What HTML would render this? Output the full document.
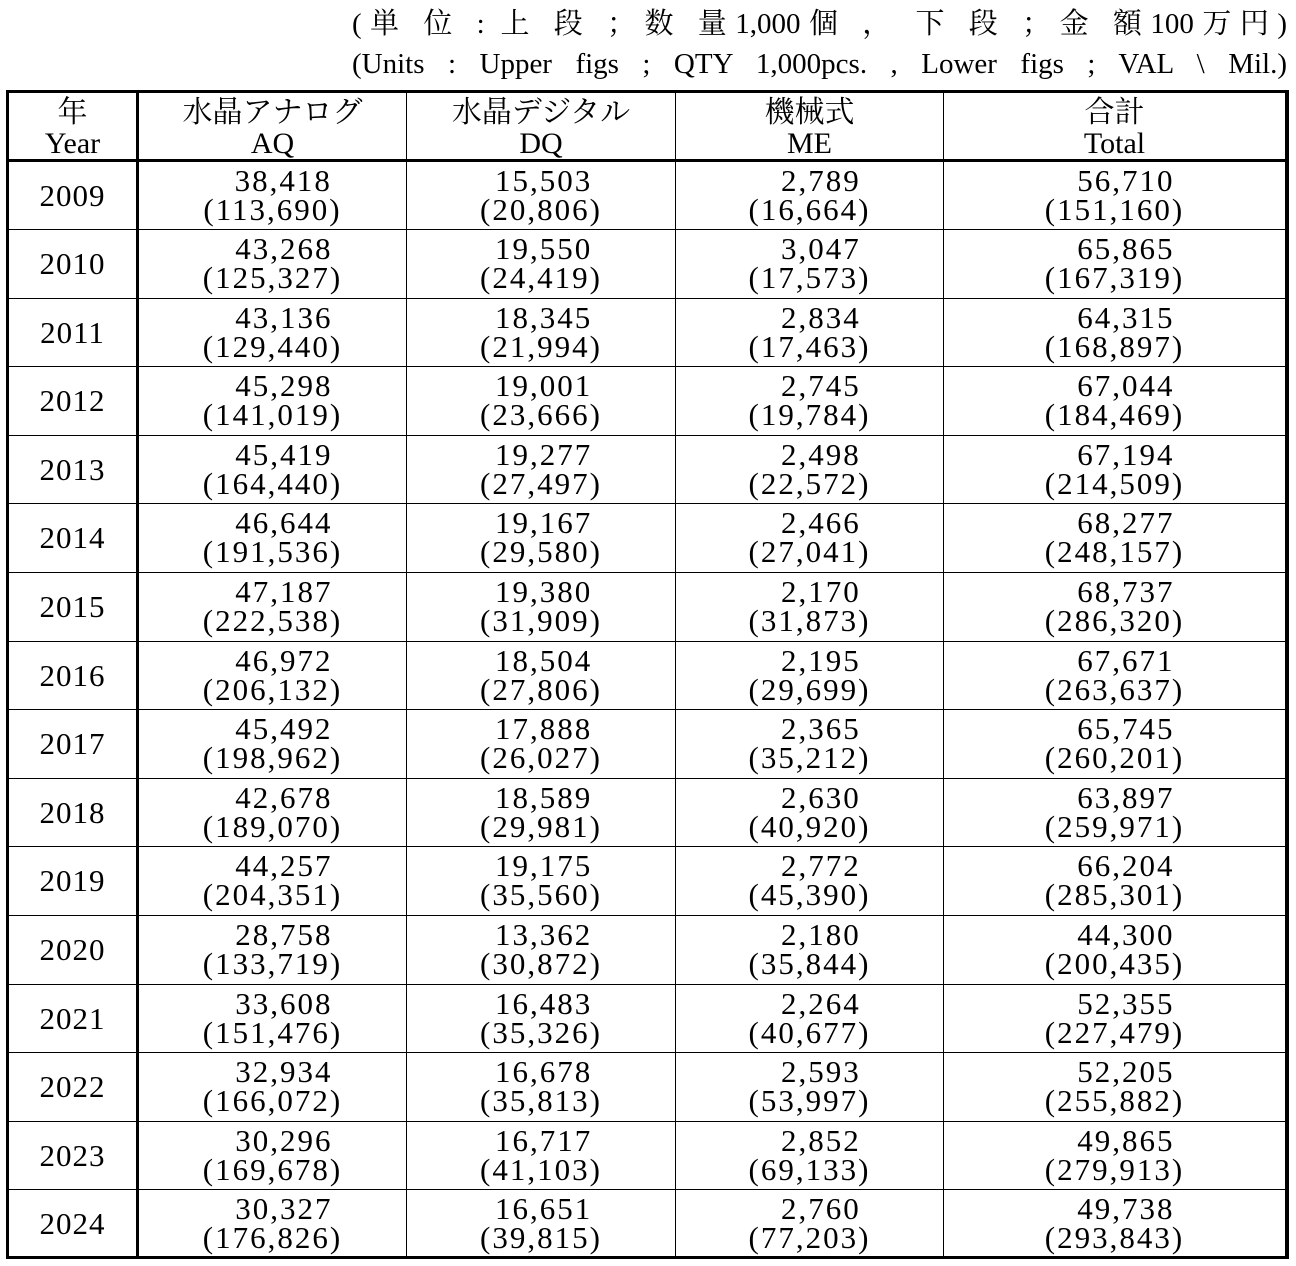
<!DOCTYPE html>
<html><head><meta charset="utf-8"><style>
body{margin:0;width:1296px;height:1266px;background:#fff;position:relative;overflow:hidden;font-family:"Liberation Serif","Noto Serif CJK SC",serif;color:#000}
.t{position:absolute;left:352px;width:935px;font-size:29px;text-align:justify;text-align-last:justify;text-justify:inter-word;white-space:nowrap;line-height:32px}
.v{position:absolute;background:#000}
.r{position:absolute;left:0;width:1296px;height:68px;font-size:31px;line-height:29px;letter-spacing:2px}
.c{position:absolute;top:4px;text-align:center}
.c span{display:inline-block;text-align:right}
.y{position:absolute;left:8px;width:129px;text-align:center;top:19px;letter-spacing:1px}
.h{position:absolute;top:97px;font-size:30px;line-height:31px;text-align:center}
</style></head><body>
<div class="t" style="top:8px">(単 位 : 上 段 ；数 量1,000個 ， 下 段 ；金 額100万円)</div>
<div class="t" style="top:48px">(Units : Upper figs ; QTY 1,000pcs. , Lower figs ; VAL \ Mil.)</div>

<div class="v" style="left:6px;top:90px;width:1283px;height:3px"></div>
<div class="v" style="left:6px;top:1256px;width:1283px;height:3px"></div>
<div class="v" style="left:6px;top:159px;width:1283px;height:3px"></div>
<div class="v" style="left:6px;top:90px;width:3px;height:1169px"></div>
<div class="v" style="left:1285px;top:90px;width:4px;height:1169px"></div>
<div class="v" style="left:136px;top:90px;width:3px;height:1169px"></div>
<div class="v" style="left:406px;top:90px;width:1px;height:1169px"></div>
<div class="v" style="left:675px;top:90px;width:1px;height:1169px"></div>
<div class="v" style="left:943px;top:90px;width:1px;height:1169px"></div>

<div class="v" style="left:6px;top:229px;width:1283px;height:1px"></div>
<div class="v" style="left:6px;top:298px;width:1283px;height:1px"></div>
<div class="v" style="left:6px;top:366px;width:1283px;height:1px"></div>
<div class="v" style="left:6px;top:435px;width:1283px;height:1px"></div>
<div class="v" style="left:6px;top:503px;width:1283px;height:1px"></div>
<div class="v" style="left:6px;top:572px;width:1283px;height:1px"></div>
<div class="v" style="left:6px;top:641px;width:1283px;height:1px"></div>
<div class="v" style="left:6px;top:709px;width:1283px;height:1px"></div>
<div class="v" style="left:6px;top:778px;width:1283px;height:1px"></div>
<div class="v" style="left:6px;top:846px;width:1283px;height:1px"></div>
<div class="v" style="left:6px;top:915px;width:1283px;height:1px"></div>
<div class="v" style="left:6px;top:984px;width:1283px;height:1px"></div>
<div class="v" style="left:6px;top:1052px;width:1283px;height:1px"></div>
<div class="v" style="left:6px;top:1121px;width:1283px;height:1px"></div>
<div class="v" style="left:6px;top:1189px;width:1283px;height:1px"></div>

<div class="h" style="left:8px;width:129px">年<br>Year</div>
<div class="h" style="left:139px;width:267px">水晶アナログ<br>AQ</div>
<div class="h" style="left:407px;width:268px">水晶デジタル<br>DQ</div>
<div class="h" style="left:676px;width:267px">機械式<br>ME</div>
<div class="h" style="left:944px;width:341px">合計<br>Total</div>

<div class="r" style="top:162px"><div class="y">2009</div><div class="c" style="left:139px;width:267px"><span>38,418&nbsp;<br>(113,690)</span></div><div class="c" style="left:407px;width:268px"><span>15,503&nbsp;<br>(20,806)</span></div><div class="c" style="left:676px;width:267px"><span>2,789&nbsp;<br>(16,664)</span></div><div class="c" style="left:944px;width:341px"><span>56,710&nbsp;<br>(151,160)</span></div></div>
<div class="r" style="top:230px"><div class="y">2010</div><div class="c" style="left:139px;width:267px"><span>43,268&nbsp;<br>(125,327)</span></div><div class="c" style="left:407px;width:268px"><span>19,550&nbsp;<br>(24,419)</span></div><div class="c" style="left:676px;width:267px"><span>3,047&nbsp;<br>(17,573)</span></div><div class="c" style="left:944px;width:341px"><span>65,865&nbsp;<br>(167,319)</span></div></div>
<div class="r" style="top:299px"><div class="y">2011</div><div class="c" style="left:139px;width:267px"><span>43,136&nbsp;<br>(129,440)</span></div><div class="c" style="left:407px;width:268px"><span>18,345&nbsp;<br>(21,994)</span></div><div class="c" style="left:676px;width:267px"><span>2,834&nbsp;<br>(17,463)</span></div><div class="c" style="left:944px;width:341px"><span>64,315&nbsp;<br>(168,897)</span></div></div>
<div class="r" style="top:367px"><div class="y">2012</div><div class="c" style="left:139px;width:267px"><span>45,298&nbsp;<br>(141,019)</span></div><div class="c" style="left:407px;width:268px"><span>19,001&nbsp;<br>(23,666)</span></div><div class="c" style="left:676px;width:267px"><span>2,745&nbsp;<br>(19,784)</span></div><div class="c" style="left:944px;width:341px"><span>67,044&nbsp;<br>(184,469)</span></div></div>
<div class="r" style="top:436px"><div class="y">2013</div><div class="c" style="left:139px;width:267px"><span>45,419&nbsp;<br>(164,440)</span></div><div class="c" style="left:407px;width:268px"><span>19,277&nbsp;<br>(27,497)</span></div><div class="c" style="left:676px;width:267px"><span>2,498&nbsp;<br>(22,572)</span></div><div class="c" style="left:944px;width:341px"><span>67,194&nbsp;<br>(214,509)</span></div></div>
<div class="r" style="top:504px"><div class="y">2014</div><div class="c" style="left:139px;width:267px"><span>46,644&nbsp;<br>(191,536)</span></div><div class="c" style="left:407px;width:268px"><span>19,167&nbsp;<br>(29,580)</span></div><div class="c" style="left:676px;width:267px"><span>2,466&nbsp;<br>(27,041)</span></div><div class="c" style="left:944px;width:341px"><span>68,277&nbsp;<br>(248,157)</span></div></div>
<div class="r" style="top:573px"><div class="y">2015</div><div class="c" style="left:139px;width:267px"><span>47,187&nbsp;<br>(222,538)</span></div><div class="c" style="left:407px;width:268px"><span>19,380&nbsp;<br>(31,909)</span></div><div class="c" style="left:676px;width:267px"><span>2,170&nbsp;<br>(31,873)</span></div><div class="c" style="left:944px;width:341px"><span>68,737&nbsp;<br>(286,320)</span></div></div>
<div class="r" style="top:642px"><div class="y">2016</div><div class="c" style="left:139px;width:267px"><span>46,972&nbsp;<br>(206,132)</span></div><div class="c" style="left:407px;width:268px"><span>18,504&nbsp;<br>(27,806)</span></div><div class="c" style="left:676px;width:267px"><span>2,195&nbsp;<br>(29,699)</span></div><div class="c" style="left:944px;width:341px"><span>67,671&nbsp;<br>(263,637)</span></div></div>
<div class="r" style="top:710px"><div class="y">2017</div><div class="c" style="left:139px;width:267px"><span>45,492&nbsp;<br>(198,962)</span></div><div class="c" style="left:407px;width:268px"><span>17,888&nbsp;<br>(26,027)</span></div><div class="c" style="left:676px;width:267px"><span>2,365&nbsp;<br>(35,212)</span></div><div class="c" style="left:944px;width:341px"><span>65,745&nbsp;<br>(260,201)</span></div></div>
<div class="r" style="top:779px"><div class="y">2018</div><div class="c" style="left:139px;width:267px"><span>42,678&nbsp;<br>(189,070)</span></div><div class="c" style="left:407px;width:268px"><span>18,589&nbsp;<br>(29,981)</span></div><div class="c" style="left:676px;width:267px"><span>2,630&nbsp;<br>(40,920)</span></div><div class="c" style="left:944px;width:341px"><span>63,897&nbsp;<br>(259,971)</span></div></div>
<div class="r" style="top:847px"><div class="y">2019</div><div class="c" style="left:139px;width:267px"><span>44,257&nbsp;<br>(204,351)</span></div><div class="c" style="left:407px;width:268px"><span>19,175&nbsp;<br>(35,560)</span></div><div class="c" style="left:676px;width:267px"><span>2,772&nbsp;<br>(45,390)</span></div><div class="c" style="left:944px;width:341px"><span>66,204&nbsp;<br>(285,301)</span></div></div>
<div class="r" style="top:916px"><div class="y">2020</div><div class="c" style="left:139px;width:267px"><span>28,758&nbsp;<br>(133,719)</span></div><div class="c" style="left:407px;width:268px"><span>13,362&nbsp;<br>(30,872)</span></div><div class="c" style="left:676px;width:267px"><span>2,180&nbsp;<br>(35,844)</span></div><div class="c" style="left:944px;width:341px"><span>44,300&nbsp;<br>(200,435)</span></div></div>
<div class="r" style="top:985px"><div class="y">2021</div><div class="c" style="left:139px;width:267px"><span>33,608&nbsp;<br>(151,476)</span></div><div class="c" style="left:407px;width:268px"><span>16,483&nbsp;<br>(35,326)</span></div><div class="c" style="left:676px;width:267px"><span>2,264&nbsp;<br>(40,677)</span></div><div class="c" style="left:944px;width:341px"><span>52,355&nbsp;<br>(227,479)</span></div></div>
<div class="r" style="top:1053px"><div class="y">2022</div><div class="c" style="left:139px;width:267px"><span>32,934&nbsp;<br>(166,072)</span></div><div class="c" style="left:407px;width:268px"><span>16,678&nbsp;<br>(35,813)</span></div><div class="c" style="left:676px;width:267px"><span>2,593&nbsp;<br>(53,997)</span></div><div class="c" style="left:944px;width:341px"><span>52,205&nbsp;<br>(255,882)</span></div></div>
<div class="r" style="top:1122px"><div class="y">2023</div><div class="c" style="left:139px;width:267px"><span>30,296&nbsp;<br>(169,678)</span></div><div class="c" style="left:407px;width:268px"><span>16,717&nbsp;<br>(41,103)</span></div><div class="c" style="left:676px;width:267px"><span>2,852&nbsp;<br>(69,133)</span></div><div class="c" style="left:944px;width:341px"><span>49,865&nbsp;<br>(279,913)</span></div></div>
<div class="r" style="top:1190px"><div class="y">2024</div><div class="c" style="left:139px;width:267px"><span>30,327&nbsp;<br>(176,826)</span></div><div class="c" style="left:407px;width:268px"><span>16,651&nbsp;<br>(39,815)</span></div><div class="c" style="left:676px;width:267px"><span>2,760&nbsp;<br>(77,203)</span></div><div class="c" style="left:944px;width:341px"><span>49,738&nbsp;<br>(293,843)</span></div></div>
</body></html>
